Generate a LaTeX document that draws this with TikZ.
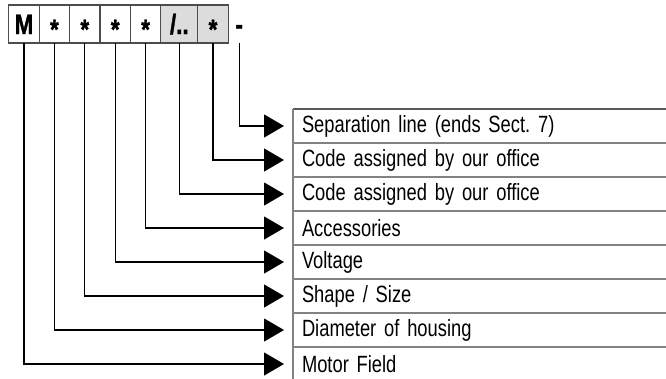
\documentclass[tikz,border=0pt]{standalone}
\usepackage{fontspec}
\setmainfont{Liberation Sans}[FakeStretch=0.78]
\newfontfamily\codefont[FakeStretch=0.8,FakeBold=1.2]{Liberation Sans Bold}
\usepackage{tikz}
\usetikzlibrary{positioning,arrows.meta}
\definecolor{boxgray}{RGB}{220,220,220}
\definecolor{rulegray}{RGB}{130,130,130}
\tikzstyle{tsCode} = [
    rectangle,
    draw=black!70,
    line width=1.3pt,
    minimum width=30.4pt,
    minimum height=38pt,
    inner sep=0pt,
    outer sep=0pt,
    text height=20pt,
    text depth=0pt,
    font=\codefont\fontsize{28pt}{28pt}\selectfont
]
\tikzstyle{tsCodeShaded} = [
    tsCode,
    fill=boxgray
]
\tikzstyle{tsRow} = [
    rectangle,
    minimum width=373pt,
    minimum height=34pt,
    text width=355pt,
    inner xsep=9pt,
    inner ysep=0pt,
    outer sep=0pt,
    align=left,
    font=\fontsize{23.5pt}{24pt}\selectfont
]
\tikzstyle{tsLink} = [
    line width=1.2pt,
    -{Triangle[length=20pt,width=23pt]},
    shorten >=9pt
]
\tikzstyle{tsRule} = [
    draw=rulegray,
    line width=1.3pt
]

\begin{document}
\begin{tikzpicture}[x=1pt, y=-1pt]

        \useasboundingbox (0,0) rectangle (666,378);

        % type code
        \node[tsCode] (bM) at (24,24) {M};
        \node[tsCode, right=0pt of bM] (bDiam) {\raisebox{-5pt}{*}};
        \node[tsCode, right=0pt of bDiam] (bShape) {\raisebox{-5pt}{*}};
        \node[tsCode, right=0pt of bShape] (bVolt) {\raisebox{-5pt}{*}};
        \node[tsCode, right=0pt of bVolt] (bAcc) {\raisebox{-5pt}{*}};
        \node[tsCodeShaded, right=0pt of bAcc, minimum width=37pt] (bCodeA) {/..};
        \node[tsCodeShaded, right=0pt of bCodeA] (bCodeB) {\raisebox{-5pt}{*}};
        \node[tsCode, draw=none, right=0pt of bCodeB, minimum width=22pt] (bSep) {-};

        % meanings
        \node[tsRow, anchor=north west] (rSep) at (293,109) {Separation line (ends Sect.~7)};
        \node[tsRow, below=0pt of rSep] (rCodeB) {Code assigned by our office};
        \node[tsRow, below=0pt of rCodeB] (rCodeA) {Code assigned by our office};
        \node[tsRow, below=0pt of rCodeA] (rAcc) {Accessories};
        \node[tsRow, below=0pt of rAcc] (rVolt) {Voltage};
        \node[tsRow, below=0pt of rVolt] (rShape) {Shape / Size};
        \node[tsRow, below=0pt of rShape] (rDiam) {Diameter of housing};
        \node[tsRow, below=0pt of rDiam] (rField) {Motor Field};

        \foreach \r in {rCodeB,rCodeA,rAcc,rVolt,rShape,rDiam,rField}
            \draw[tsRule] (\r.north west) -- (\r.north east);
        \draw[tsRule, draw=black!65] (rSep.north west) -- (rSep.north east);
        \draw[tsRule] (rSep.north west) -- (rField.south west);

        % links
        \draw[tsLink] (bSep.south) |- (rSep.west);
        \draw[tsLink] (bCodeB.south) |- (rCodeB.west);
        \draw[tsLink] (bCodeA.south) |- (rCodeA.west);
        \draw[tsLink] (bAcc.south) |- (rAcc.west);
        \draw[tsLink] (bVolt.south) |- (rVolt.west);
        \draw[tsLink] (bShape.south) |- (rShape.west);
        \draw[tsLink] (bDiam.south) |- (rDiam.west);
        \draw[tsLink] (bM.south) |- (rField.west);

\end{tikzpicture}
\end{document}
